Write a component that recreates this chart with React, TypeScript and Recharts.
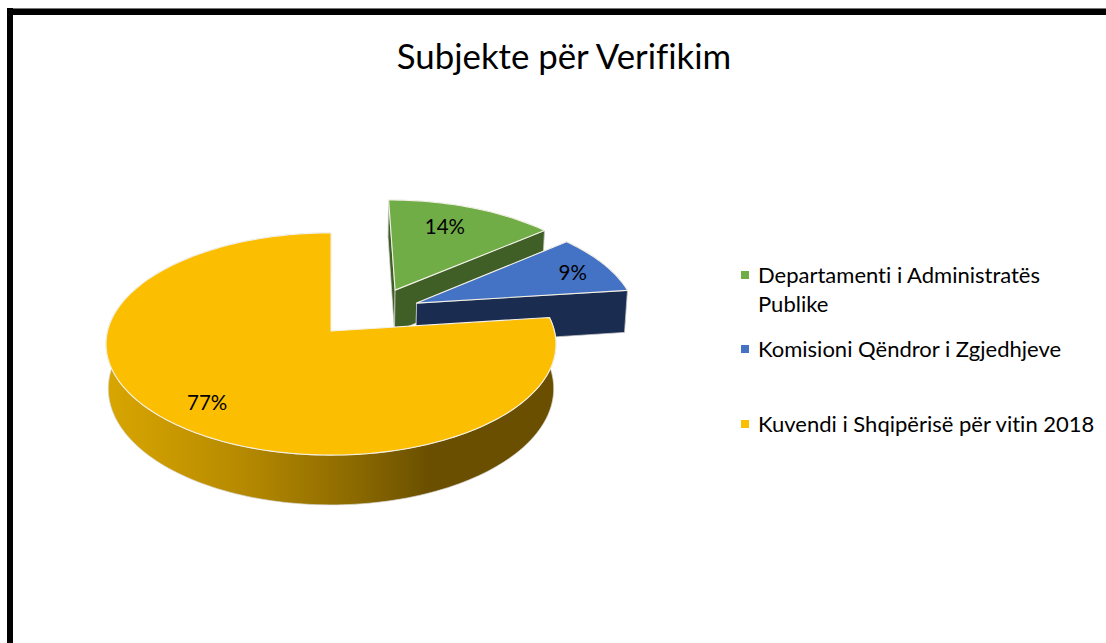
import React from "react";
import { PieChart, Pie, Legend } from "recharts";

const TITLE = "Subjekte për Verifikim";
const NAMES = [
  "Departamenti i Administratës Publike",
  "Komisioni Qëndror i Zgjedhjeve",
  "Kuvendi i Shqipërisë për vitin 2018",
];
const VALUES = [14, 9, 77];
const TOP_COLORS = ["#70AD47", "#4472C4", "#FCBE00"];
const WALL_COLORS = ["#3F5F27", "#1A2C50", "url(#yellowWall)"];
// Explosion of each slice, in units of the pie's radius on the tilted plane.
const EXPLODE_U = [0.3, 0.395, 0];
const EXPLODE_V = [0.39, 0.2626, 0];
const LABEL_RADIUS = [0.742, 0.82, 0.793];
const LABEL_NUDGE_DEG = [-3.5, 1.2, -0.9];

const rows = NAMES.map((name, i) => ({ name, value: VALUES[i], fill: TOP_COLORS[i], slot: i }));

const FONT = "Lato, 'Open Sans', sans-serif";
const PERSPECTIVE = 0.117;
const X_SCALE = 0.993;
const Y_SCALE = 0.487;
const DEPTH = 44;

function project(cx: number, cy: number, R: number, u: number, v: number) {
  const w = 1 + PERSPECTIVE * v;
  return { x: cx + (R * X_SCALE * u) / w, y: cy - (R * Y_SCALE * v) / w, w };
}

function lower(cx: number, p: { x: number; y: number; w: number }) {
  return { x: cx + (p.x - cx) * 0.99, y: p.y + DEPTH / p.w, w: p.w };
}

const toPath = (pts: { x: number; y: number }[]) =>
  pts.map((p, i) => `${i ? "L" : "M"}${p.x.toFixed(2)} ${p.y.toFixed(2)}`).join(" ") + " Z";

function Slice3D(props: any) {
  const { cx, cy, outerRadius: R, startAngle, endAngle, slot } = props;
  const ou = EXPLODE_U[slot];
  const ov = EXPLODE_V[slot];
  const t0 = 90 - startAngle;
  const t1 = 90 - endAngle;
  const rim: any[] = [];
  const steps = Math.max(4, Math.ceil((t1 - t0) / 1.5));
  for (let i = 0; i <= steps; i++) {
    const t = ((t0 + ((t1 - t0) * i) / steps) * Math.PI) / 180;
    rim.push(project(cx, cy, R, ou + Math.sin(t), ov + Math.cos(t)));
  }
  const apex = project(cx, cy, R, ou, ov);
  const rimLow = rim.map((p) => lower(cx, p));
  const apexLow = lower(cx, apex);
  const wall = WALL_COLORS[slot];
  const first = rim[0];
  const last = rim[rim.length - 1];
  return (
    <g>
      <defs>
        <linearGradient id="yellowWall" gradientUnits="userSpaceOnUse" x1="106" y1="0" x2="556" y2="0">
          <stop offset="0" stopColor="#D9A600" />
          <stop offset="0.3" stopColor="#B68A00" />
          <stop offset="0.55" stopColor="#8C6A00" />
          <stop offset="0.72" stopColor="#6A4F00" />
          <stop offset="1" stopColor="#6A4F00" />
        </linearGradient>
      </defs>
      <path d={toPath([...rim, ...rimLow.slice().reverse()])} fill={wall} stroke="#D8D8D8" strokeWidth={0.7} />
      {slot !== 2 && (
        <>
          <path d={toPath([apex, first, lower(cx, first), apexLow])} fill={wall} stroke="#D8D8D8" strokeWidth={0.7} />
          <path d={toPath([apex, last, lower(cx, last), apexLow])} fill={wall} stroke="#D8D8D8" strokeWidth={0.7} />
        </>
      )}
      <path d={toPath([apex, ...rim])} fill={TOP_COLORS[slot]} stroke="#F4F1E6" strokeWidth={1.1} strokeLinejoin="round" />
    </g>
  );
}

function renderLabel(props: any) {
  const { cx, cy, outerRadius: R, midAngle, percent, slot } = props;
  const t = ((90 - midAngle + LABEL_NUDGE_DEG[slot]) * Math.PI) / 180;
  const r = LABEL_RADIUS[slot];
  const p = project(cx, cy, R, EXPLODE_U[slot] + r * Math.sin(t), EXPLODE_V[slot] + r * Math.cos(t));
  return (
    <text x={p.x} y={p.y} textAnchor="middle" dominantBaseline="central" fontFamily={FONT} fontSize={20.5} fill="#000">
      {`${Math.round(percent * 100)}%`}
    </text>
  );
}

const LEGEND_GAP = [0, 16, 46];

function LegendBox(props: any) {
  const items = props.payload || [];
  return (
    <div style={{ fontFamily: FONT, fontSize: 22, lineHeight: "29px", color: "#000", fontVariantLigatures: "none" }}>
      {items.map((e: any, i: number) => (
        <div key={e.value} style={{ position: "relative", paddingLeft: 17, marginTop: LEGEND_GAP[i] }}>
          <span
            style={{
              position: "absolute",
              left: 0,
              top: 11,
              width: 8,
              height: 8,
              background: TOP_COLORS[i],
            }}
          />
          {e.value}
        </div>
      ))}
    </div>
  );
}

export default function App() {
  return (
    <div style={{ position: "absolute", left: 0, top: 0, width: 1106, height: 643, overflow: "hidden", background: "#fff" }}>
      <div style={{ position: "absolute", left: 7, top: 8, width: 1099, height: 7, background: "#000", borderTop: "1px solid #777", boxSizing: "border-box" }} />
      <div style={{ position: "absolute", left: 7, top: 8, width: 6, height: 635, background: "#000" }} />
      <div
        style={{
          position: "absolute",
          left: 264,
          width: 600,
          top: 34,
          textAlign: "center",
          fontFamily: FONT,
          fontSize: 34.8,
          lineHeight: "44px",
          color: "#000",
          fontVariantLigatures: "none",
        }}
      >
        {TITLE}
      </div>
      <PieChart width={1106} height={643} margin={{ top: 0, right: 0, bottom: 0, left: 0 }} style={{ position: "absolute", left: 0, top: 0 }}>
        <Pie
          data={rows}
          dataKey="value"
          nameKey="name"
          cx={331}
          cy={331}
          innerRadius={0}
          outerRadius={225}
          startAngle={90}
          endAngle={-270}
          paddingAngle={0}
          isAnimationActive={false}
          shape={Slice3D}
          label={renderLabel}
          labelLine={false}
        />
        <Legend
          layout="vertical"
          align="right"
          verticalAlign="top"
          content={<LegendBox />}
          wrapperStyle={{ left: 741, top: 260, width: 360, right: "auto", bottom: "auto" }}
        />
      </PieChart>
    </div>
  );
}
